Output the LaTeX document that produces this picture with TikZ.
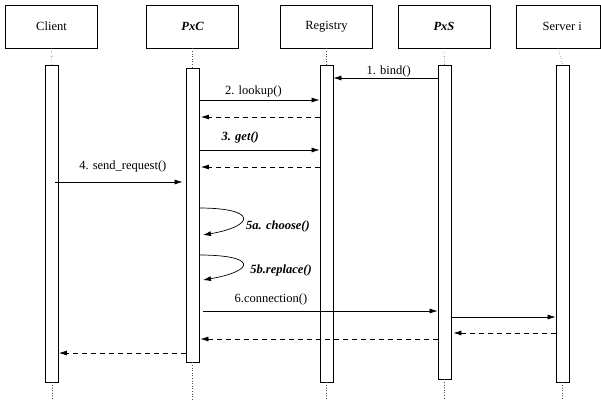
\documentclass[tikz,border=0pt]{standalone}
\usepackage{fontspec}
\setmainfont{Liberation Serif}
\usetikzlibrary{arrows.meta}
\begin{document}
\begin{tikzpicture}[x=1pt,y=-1pt,
  font=\fontsize{12.5}{14}\selectfont,
  obj/.style={draw, line width=0.7pt, minimum width=92pt, minimum height=43pt, inner sep=0pt},
  actbar/.style={draw, fill=white, line width=0.8pt, minimum width=13pt, inner sep=0pt},
  life/.style={dotted, line width=0.6pt, black!70},
  msg/.style={line width=0.7pt, -{Latex[length=8pt,width=5pt]}},
  ret/.style={msg, dash pattern=on 5pt off 4pt},
  lbl/.style={inner sep=0pt, anchor=base},
  bi/.style={font=\fontsize{12.5}{14}\selectfont\bfseries\itshape},
]
\useasboundingbox (0,0) rectangle (601,400);

% object boxes
\node[obj] (client) at (51.5,26.5) {Client};
\node[obj] (pxc) at (192.5,26.5) {\bfseries\itshape PxC};
\node[obj] (registry) at (326.5,26.5) {Registry};
\node[obj] (pxs) at (444,26.5) {\bfseries\itshape PxS};
\node[obj, minimum width=84pt] (server) at (558.3,26.5) {\hspace*{8pt}Server i};

% activation bars
\node[actbar, minimum height=317pt] (cb) at (52,223.5) {};
\node[actbar, minimum height=294pt] (pb) at (192.5,215) {};
\node[actbar, minimum height=317pt] (rb) at (326.5,223.5) {};
\node[actbar, minimum height=314pt] (sb) at (444.5,222) {};
\node[actbar, minimum height=317pt] (vb) at (562.5,223.5) {};

% lifelines
\foreach \o/\b in {client/cb, pxc/pb, registry/rb, pxs/sb, server/vb} {
  \draw[life] (\o.south) -- (\b.north);
  \draw[life] (\b.south) -- (\b.south |- 0,400);
}

% message levels
\coordinate (y1) at (0,78);
\coordinate (y2) at (0,100);
\coordinate (y2r) at (0,117);
\coordinate (y3) at (0,150);
\coordinate (y3r) at (0,167);
\coordinate (y4) at (0,182);
\coordinate (y6) at (0,311);
\coordinate (y7) at (0,317);
\coordinate (y7r) at (0,333);
\coordinate (y6r) at (0,339);
\coordinate (y4r) at (0,353);

% 1. bind
\draw[msg] (sb.west |- y1) -- node[lbl, pos=0.47, yshift=4pt] {1. bind()} (rb.east |- y1);
% 2. lookup
\draw[msg] (pb.east |- y2) -- node[lbl, pos=0.45, yshift=5.5pt] {2. lookup()} (rb.west |- y2);
\draw[ret] (rb.west |- y2r) -- ([xshift=1.5pt]pb.east |- y2r);
% 3. get
\draw[msg] (pb.east |- y3) -- node[lbl, pos=0.34, yshift=9.5pt, bi] {3. get()} (rb.west |- y3);
\draw[ret] (rb.west |- y3r) -- ([xshift=1.5pt]pb.east |- y3r);
% 4. send_request
\draw[msg] ([xshift=-3.5pt]cb.east |- y4) -- node[lbl, pos=0.53, yshift=12.5pt] {4. send\_request()} ([xshift=-3pt]pb.west |- y4);

% 5a / 5b self calls
\coordinate (s5a) at (199,208);
\coordinate (e5a) at (203,235);
\coordinate (s5b) at (199,255);
\coordinate (e5b) at (203,280);
\draw[msg] (s5a) .. controls (258,208) and (255,226) .. (e5a);
\draw[msg] (s5b) .. controls (258,255) and (255,271) .. (e5b);
\node[bi, inner sep=0pt] (l5a) at (278,226) {5a. choose()};
\node[bi, inner sep=0pt] (l5b) at (281,270.5) {5b.replace()};

% 6. connection
\draw[msg] ([xshift=3.5pt]pb.east |- y6) -- node[lbl, pos=0.29, yshift=9pt] {6.connection()} (sb.west |- y6);
\draw[msg] (sb.east |- y7) -- (vb.west |- y7);
\draw[ret] (vb.west |- y7r) -- ([xshift=2pt]sb.east |- y7r);
\draw[ret] (sb.west |- y6r) -- ([xshift=1pt]pb.east |- y6r);
\draw[ret] (pb.west |- y4r) -- (cb.east |- y4r);
\end{tikzpicture}
\end{document}
